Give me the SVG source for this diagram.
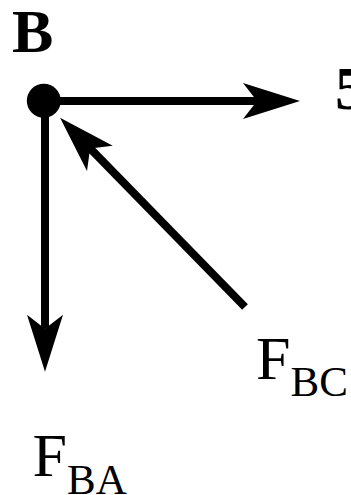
<svg xmlns="http://www.w3.org/2000/svg" width="351" height="495" viewBox="0 0 351 495">
  <style>
    .lbl { font-family: "Liberation Serif", "Times New Roman", serif; fill: #000; }
    .main { font-size: 62px; }
    .sub { font-size: 43px; }
    .bold { font-weight: bold; }
    .force { stroke: #000; stroke-width: 8; fill: none; marker-end: url(#head); }
  </style>
  <defs>
    <marker id="head" markerUnits="userSpaceOnUse" orient="auto" refX="0" refY="0" markerWidth="1" markerHeight="1" overflow="visible">
      <path d="M43,0 L-14,-18 L0,0 L-14,18 Z" fill="#000"/>
    </marker>
  </defs>
  <rect width="351" height="495" fill="#fff"/>
  <g id="connectors">
    <line class="force" x1="44" y1="101" x2="257" y2="101"/>
    <line class="force" x1="45" y1="101" x2="45" y2="328.7"/>
    <line class="force" x1="245" y1="307" x2="90.1" y2="148.4"/>
  </g>
  <g id="node-B">
    <circle cx="43.8" cy="100.7" r="17" fill="#000"/>
    <text class="lbl main bold" x="12" y="52">B</text>
  </g>
  <g id="label-5">
    <text class="lbl main bold" x="335" y="109">5</text>
  </g>
  <g id="label-FBC">
    <text class="lbl main" x="256" y="379.3">F<tspan class="sub" dy="16.7">BC</tspan></text>
  </g>
  <g id="label-FBA">
    <text class="lbl main" x="32.5" y="476">F<tspan class="sub" dy="17.7">BA</tspan></text>
  </g>
</svg>
